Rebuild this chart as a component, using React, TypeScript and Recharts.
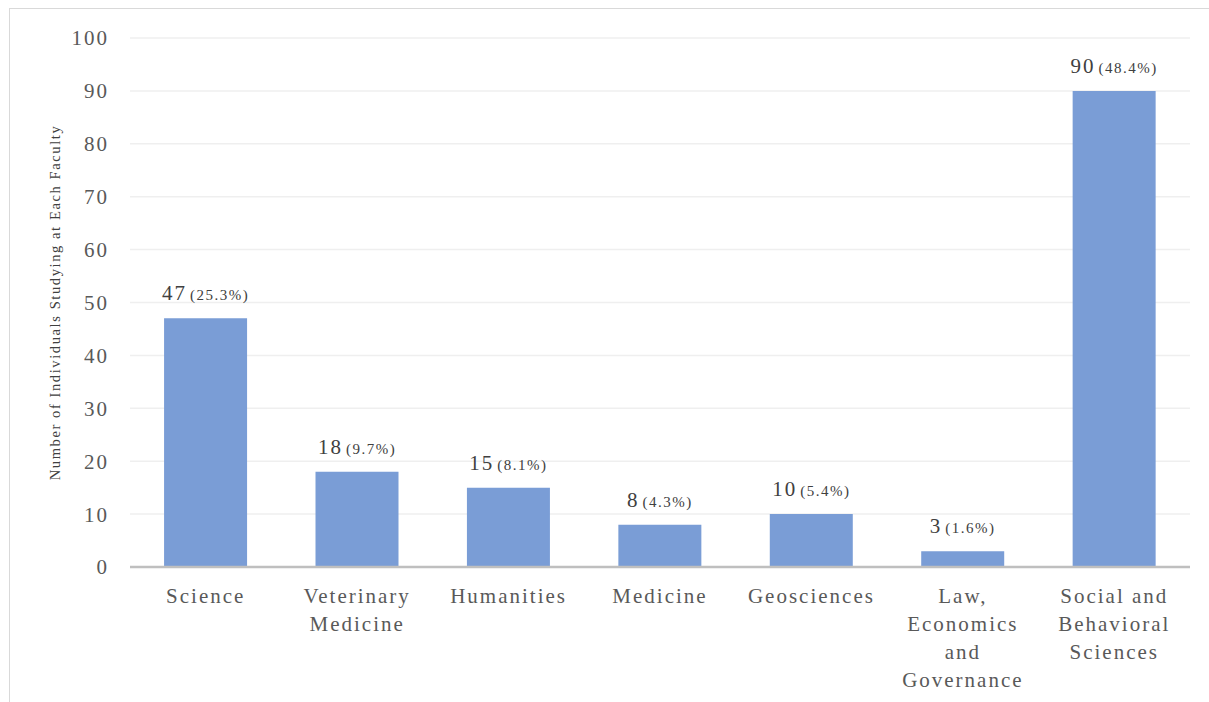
import React from "react";
import { Bar, BarChart, CartesianGrid, LabelList, XAxis, YAxis } from "recharts";

const faculties = [
  "Science",
  "Veterinary Medicine",
  "Humanities",
  "Medicine",
  "Geosciences",
  "Law, Economics and Governance",
  "Social and Behavioral Sciences",
];
const tickLines: string[][] = [
  ["Science"],
  ["Veterinary", "Medicine"],
  ["Humanities"],
  ["Medicine"],
  ["Geosciences"],
  ["Law,", "Economics", "and", "Governance"],
  ["Social and", "Behavioral", "Sciences"],
];
const counts = [47, 18, 15, 8, 10, 3, 90];
const percents = ["25.3%", "9.7%", "8.1%", "4.3%", "5.4%", "1.6%", "48.4%"];
const yTicks = [0, 10, 20, 30, 40, 50, 60, 70, 80, 90, 100];

const FONT = '"Liberation Serif", Tinos, "Times New Roman", "DejaVu Serif", serif';

const data = faculties.map((name, i) => ({
  name,
  count: counts[i],
  pct: percents[i],
}));

const CategoryTick = (props: any) => {
  const { x, y, index } = props;
  const lines = tickLines[index] || [];
  return (
    <text
      x={x}
      y={y}
      textAnchor="middle"
      fill="#595959"
      style={{ fontFamily: FONT, fontSize: 21, letterSpacing: 2 }}
    >
      {lines.map((l, i) => (
        <tspan key={i} x={x} y={y + 34 + i * 28}>
          {l}
        </tspan>
      ))}
    </text>
  );
};

const ValueLabel = (props: any) => {
  const { x, y, width, index } = props;
  return (
    <text
      x={x + width / 2}
      y={y - 18}
      textAnchor="middle"
      fill="#404040"
      style={{ fontFamily: FONT }}
    >
      <tspan style={{ fontSize: 21, letterSpacing: 2 }}>{counts[index]}</tspan>
      <tspan style={{ fontSize: 15, letterSpacing: 1.5 }} dx={3}>
        ({percents[index]})
      </tspan>
    </text>
  );
};

const AxisTitle = (props: any) => {
  const { viewBox } = props;
  const cx = 57;
  const cy = viewBox.y + viewBox.height / 2;
  return (
    <text
      x={cx}
      y={cy}
      transform={`rotate(-90, ${cx}, ${cy})`}
      textAnchor="middle"
      dominantBaseline="middle"
      fill="#404040"
      style={{ fontFamily: FONT, fontSize: 14.5, letterSpacing: 1.6 }}
    >
      Number of Individuals Studying at Each Faculty
    </text>
  );
};

export default function App() {
  return (
    <div
      style={{
        position: "absolute",
        left: 0,
        top: 0,
        width: 1209,
        height: 702,
        overflow: "hidden",
        background: "#fff",
      }}
    >
      <div
        style={{
          position: "absolute",
          left: 9,
          top: 8,
          width: 1240,
          height: 740,
          border: "1.5px solid #d9d9d9",
        }}
      />
      <div style={{ position: "absolute", left: 0, top: 0 }}>
        <BarChart
          width={1209}
          height={702}
          data={data}
          margin={{ top: 38, right: 19, bottom: 0, left: 0 }}
          barCategoryGap="22.5%"
        >
          <CartesianGrid vertical={false} stroke="#efefef" strokeWidth={1.5} />
          <XAxis
            dataKey="name"
            height={135}
            tickLine={false}
            tickSize={0}
            axisLine={{ stroke: "#bfbfbf", strokeWidth: 2.5 }}
            tick={<CategoryTick />}
            interval={0}
          />
          <YAxis
            width={130}
            domain={[0, 100]}
            ticks={yTicks}
            axisLine={false}
            tickLine={false}
            tickSize={0}
            tickMargin={21}
            tick={{
              fill: "#595959",
              style: { fontFamily: FONT, fontSize: 21, letterSpacing: 2 },
            }}
            label={<AxisTitle />}
          />
          <Bar dataKey="count" fill="#7A9DD6" isAnimationActive={false}>
            <LabelList dataKey="count" content={<ValueLabel />} />
          </Bar>
        </BarChart>
      </div>
    </div>
  );
}
